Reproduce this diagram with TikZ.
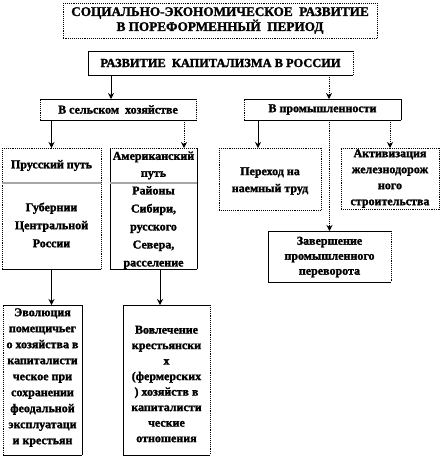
\documentclass[tikz,border=0pt]{standalone}
\usepackage{fontspec}
\setmainfont{Liberation Serif}[BoldFeatures={FakeBold=1.6}]
\usetikzlibrary{arrows.meta}
\newcommand\mkbox[5]{\node[boxshape, minimum width={#4-#2}, minimum height={#5-#3}] (#1) at ({(#2+#4)/2},{(#3+#5)/2}) {};}
\newcommand\bord[5]{%
  \draw[#2] (#1.north west) -- (#1.north east);
  \draw[#3] (#1.north east) -- (#1.south east);
  \draw[#4] (#1.south east) -- (#1.south west);
  \draw[#5] (#1.south west) -- (#1.north west);}
\begin{document}
\begin{tikzpicture}[x=1pt,y=-1pt,
  boxshape/.style={draw=none, inner sep=0pt, outer sep=0pt},
  sol/.style={line width=0.9pt, solid},
  dot/.style={line width=0.9pt, densely dotted},
  txt/.style={inner sep=0pt, align=center, font=\fontsize{12}{16}\selectfont\bfseries},
  arr/.style={line width=0.9pt, -{Stealth[width=6pt,length=6pt,inset=2pt]}},
  darr/.style={arr, densely dotted},
  divider/.style={gray!70, line width=1.2pt}]
\useasboundingbox[fill=white] (0,0) rectangle (442,464);

% boxes
\mkbox{title}{63}{3}{377}{38}
\mkbox{kap}{88}{51}{353}{75}
\mkbox{agr}{40}{99}{196}{120}
\mkbox{ind}{244}{99}{401}{120}
\mkbox{prus}{2}{148}{101}{269}
\mkbox{amer}{110}{148}{197}{269}
\mkbox{evol}{3}{305}{82}{455}
\mkbox{vovl}{123}{305}{210}{455}
\mkbox{perek}{219}{148}{321}{210}
\mkbox{aktiv}{341}{148}{439}{209}
\mkbox{zaver}{268}{231}{391}{282}

% header parts of the two "путь" boxes
\mkbox{prush}{2}{148}{101}{183}
\mkbox{amerh}{110}{148}{197}{183}

% borders: top, right, bottom, left
\bord{title}{dot}{dot}{dot}{dot}
\bord{kap}{sol}{dot}{sol}{sol}
\bord{agr}{sol}{dot}{sol}{dot}
\bord{ind}{sol}{sol}{sol}{dot}
\bord{prus}{dot}{dot}{sol}{dot}
\bord{amer}{dot}{sol}{sol}{sol}
\bord{evol}{sol}{sol}{sol}{dot}
\bord{vovl}{sol}{dot}{sol}{sol}
\bord{perek}{dot}{dot}{dot}{dot}
\bord{aktiv}{dot}{dot}{dot}{dot}
\bord{zaver}{sol}{dot}{sol}{sol}
\draw[divider] (prush.south west) -- (prush.south east);
\draw[divider] (amerh.south west) -- (amerh.south east);

% texts
\node[txt, font=\fontsize{13.2}{15}\selectfont\bfseries] (title-t) at (title) {СОЦИАЛЬНО-ЭКОНОМИЧЕСКОЕ\ \ РАЗВИТИЕ\\В ПОРЕФОРМЕННЫЙ\ \ ПЕРИОД};
\node[txt, font=\fontsize{12.4}{16}\selectfont\bfseries] (kap-t) at (kap) {РАЗВИТИЕ\ \ КАПИТАЛИЗМА В РОССИИ};
\node[txt] (agr-t) at (agr) {В сельском\ \ хозяйстве};
\node[txt] (ind-t) at (ind) {В промышленности};
\node[txt] (prush-t) at (prush) {Прусский путь};
\node[txt, font=\fontsize{12}{18}\selectfont\bfseries] (prusb-t) at (51.5,225) {Губернии\\Центральной\\России};
\node[txt, font=\fontsize{12}{17}\selectfont\bfseries] (amerh-t) at (amerh) {Американский\\путь};
\begin{scope}
\clip (amer.north west) rectangle (amer.south east);
\node[txt, font=\fontsize{12}{18}\selectfont\bfseries, anchor=north] (amerb-t) at (153.5,186) {Районы\\Сибири,\\русского\\Севера,\\расселение\\казачества};
\end{scope}
\node[txt] (evol-t) at (42.5,377.5) {Эволюция\\помещичьег\\о хозяйства\ в\\капиталисти\\ческое при\\сохранении\\феодальной\\эксплуатаци\\и крестьян};
\node[txt, font=\fontsize{12}{15.5}\selectfont\bfseries] (vovl-t) at (166.5,384) {Вовлечение\\крестьянски\\х\\(фермерских\\) хозяйств\ в\\капиталисти\\ческие\\отношения};
\node[txt, font=\fontsize{12}{17}\selectfont\bfseries] (perek-t) at (270,181) {Переход на\\наемный труд};
\node[txt] (aktiv-t) at (390,178.5) {Активизация\\железнодорож\\ного\\строительства};
\node[txt, font=\fontsize{12}{15}\selectfont\bfseries] (zaver-t) at (329.5,257) {Завершение\\промышленного\\переворота};

% connectors
\draw[arr] ([xshift=-7pt]agr.north |- kap.south) -- ([xshift=-7pt]agr.north);
\draw[darr] ([xshift=6.5pt]ind.north |- kap.south) -- ([xshift=6.5pt]ind.north);
\draw[arr] (prus.north |- agr.south) -- (prus.north);
\draw[darr] ([xshift=-12pt]agr.south east) -- ([xshift=-12pt]agr.south east |- amer.north);
\draw[arr] ([xshift=14pt]ind.south west) -- ([xshift=14pt]ind.south west |- perek.north);
\draw[darr] (aktiv.north |- ind.south) -- (aktiv.north);
\draw[darr] (zaver.north |- ind.south) -- (zaver.north);
\draw[arr] (prus.south) -- (prus.south |- evol.north);
\draw[arr] ([xshift=6.5pt]amer.south) -- ([xshift=6.5pt]amer.south |- vovl.north);
\end{tikzpicture}
\end{document}
